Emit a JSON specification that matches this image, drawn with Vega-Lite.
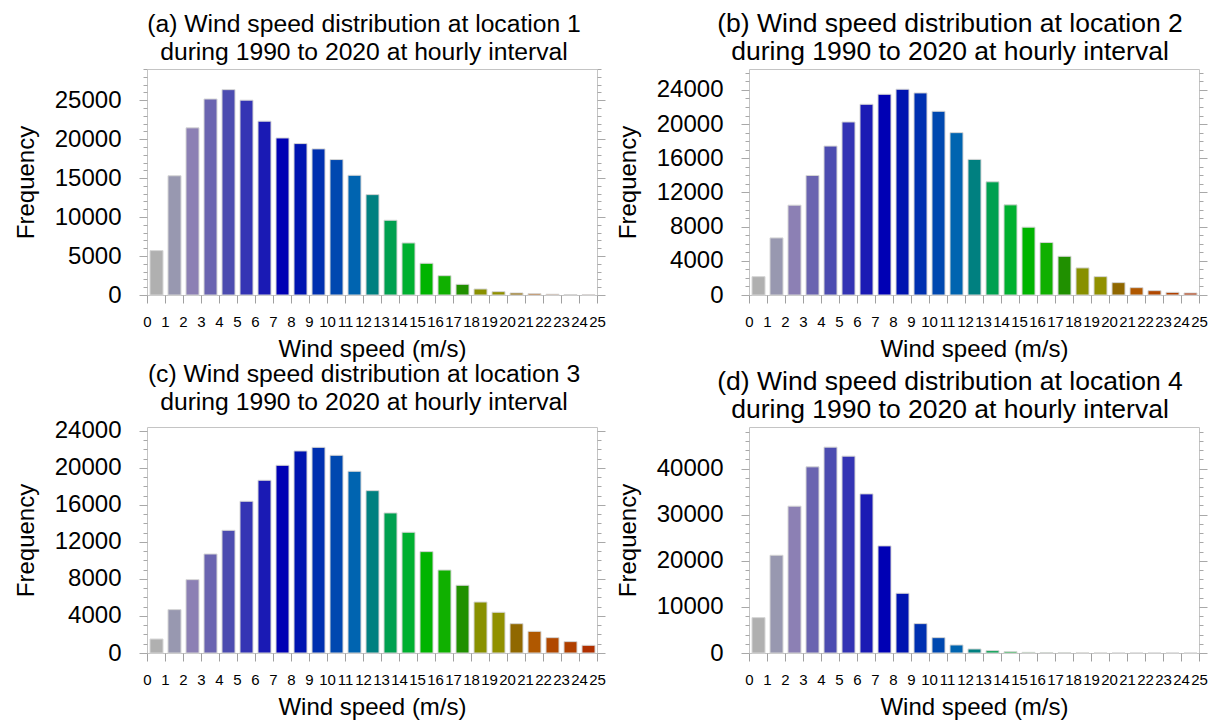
{
  "$schema": "https://vega.github.io/schema/vega-lite/v6.json",
  "padding": {"left": 13, "top": 10, "right": 0, "bottom": 0},
  "background": "white",
  "config": {
    "font": "Liberation Sans",
    "view": {"stroke": "#c4c4c4", "strokeWidth": 1},
    "bar": {"binSpacing": 5},
    "axis": {"domain": false, "grid": false, "tickColor": "#a8a8a8", "tickWidth": 1, "tickOpacity": 1, "labelColor": "#000000", "titleColor": "#000000", "labelFont": "Liberation Sans", "titleFont": "Liberation Sans", "titleFontWeight": "normal"},
    "title": {"font": "Liberation Sans", "fontSize": 24.7, "fontWeight": "normal", "color": "#000000", "lineHeight": 28, "anchor": "middle", "offset": 4}
  },
  "spacing": {"row": -1, "column": 9},
  "datasets": {
    "a": [
      {"bin": 0, "lo": 0, "hi": 1, "count": 5700}, {"bin": 1, "lo": 1, "hi": 2, "count": 15300}, {"bin": 2, "lo": 2, "hi": 3, "count": 21450}, {"bin": 3, "lo": 3, "hi": 4, "count": 25150}, {"bin": 4, "lo": 4, "hi": 5, "count": 26350},
      {"bin": 5, "lo": 5, "hi": 6, "count": 25000}, {"bin": 6, "lo": 6, "hi": 7, "count": 22300}, {"bin": 7, "lo": 7, "hi": 8, "count": 20150}, {"bin": 8, "lo": 8, "hi": 9, "count": 19430}, {"bin": 9, "lo": 9, "hi": 10, "count": 18750},
      {"bin": 10, "lo": 10, "hi": 11, "count": 17380}, {"bin": 11, "lo": 11, "hi": 12, "count": 15360}, {"bin": 12, "lo": 12, "hi": 13, "count": 12880}, {"bin": 13, "lo": 13, "hi": 14, "count": 9590}, {"bin": 14, "lo": 14, "hi": 15, "count": 6680},
      {"bin": 15, "lo": 15, "hi": 16, "count": 4070}, {"bin": 16, "lo": 16, "hi": 17, "count": 2480}, {"bin": 17, "lo": 17, "hi": 18, "count": 1370}, {"bin": 18, "lo": 18, "hi": 19, "count": 770}, {"bin": 19, "lo": 19, "hi": 20, "count": 430},
      {"bin": 20, "lo": 20, "hi": 21, "count": 260}, {"bin": 21, "lo": 21, "hi": 22, "count": 170}, {"bin": 22, "lo": 22, "hi": 23, "count": 100}, {"bin": 23, "lo": 23, "hi": 24, "count": 55}, {"bin": 24, "lo": 24, "hi": 25, "count": 30}
    ],
    "b": [
      {"bin": 0, "lo": 0, "hi": 1, "count": 2150}, {"bin": 1, "lo": 1, "hi": 2, "count": 6680}, {"bin": 2, "lo": 2, "hi": 3, "count": 10510}, {"bin": 3, "lo": 3, "hi": 4, "count": 13990}, {"bin": 4, "lo": 4, "hi": 5, "count": 17430},
      {"bin": 5, "lo": 5, "hi": 6, "count": 20250}, {"bin": 6, "lo": 6, "hi": 7, "count": 22320}, {"bin": 7, "lo": 7, "hi": 8, "count": 23490}, {"bin": 8, "lo": 8, "hi": 9, "count": 24080}, {"bin": 9, "lo": 9, "hi": 10, "count": 23650},
      {"bin": 10, "lo": 10, "hi": 11, "count": 21500}, {"bin": 11, "lo": 11, "hi": 12, "count": 19000}, {"bin": 12, "lo": 12, "hi": 13, "count": 15870}, {"bin": 13, "lo": 13, "hi": 14, "count": 13250}, {"bin": 14, "lo": 14, "hi": 15, "count": 10550},
      {"bin": 15, "lo": 15, "hi": 16, "count": 7940}, {"bin": 16, "lo": 16, "hi": 17, "count": 6140}, {"bin": 17, "lo": 17, "hi": 18, "count": 4530}, {"bin": 18, "lo": 18, "hi": 19, "count": 3170}, {"bin": 19, "lo": 19, "hi": 20, "count": 2150},
      {"bin": 20, "lo": 20, "hi": 21, "count": 1450}, {"bin": 21, "lo": 21, "hi": 22, "count": 860}, {"bin": 22, "lo": 22, "hi": 23, "count": 510}, {"bin": 23, "lo": 23, "hi": 24, "count": 310}, {"bin": 24, "lo": 24, "hi": 25, "count": 235}
    ],
    "c": [
      {"bin": 0, "lo": 0, "hi": 1, "count": 1510}, {"bin": 1, "lo": 1, "hi": 2, "count": 4690}, {"bin": 2, "lo": 2, "hi": 3, "count": 7930}, {"bin": 3, "lo": 3, "hi": 4, "count": 10700}, {"bin": 4, "lo": 4, "hi": 5, "count": 13260},
      {"bin": 5, "lo": 5, "hi": 6, "count": 16400}, {"bin": 6, "lo": 6, "hi": 7, "count": 18670}, {"bin": 7, "lo": 7, "hi": 8, "count": 20290}, {"bin": 8, "lo": 8, "hi": 9, "count": 21840}, {"bin": 9, "lo": 9, "hi": 10, "count": 22230},
      {"bin": 10, "lo": 10, "hi": 11, "count": 21370}, {"bin": 11, "lo": 11, "hi": 12, "count": 19640}, {"bin": 12, "lo": 12, "hi": 13, "count": 17550}, {"bin": 13, "lo": 13, "hi": 14, "count": 15140}, {"bin": 14, "lo": 14, "hi": 15, "count": 13050},
      {"bin": 15, "lo": 15, "hi": 16, "count": 10960}, {"bin": 16, "lo": 16, "hi": 17, "count": 8970}, {"bin": 17, "lo": 17, "hi": 18, "count": 7320}, {"bin": 18, "lo": 18, "hi": 19, "count": 5510}, {"bin": 19, "lo": 19, "hi": 20, "count": 4400},
      {"bin": 20, "lo": 20, "hi": 21, "count": 3170}, {"bin": 21, "lo": 21, "hi": 22, "count": 2340}, {"bin": 22, "lo": 22, "hi": 23, "count": 1660}, {"bin": 23, "lo": 23, "hi": 24, "count": 1230}, {"bin": 24, "lo": 24, "hi": 25, "count": 830}
    ],
    "d": [
      {"bin": 0, "lo": 0, "hi": 1, "count": 7670}, {"bin": 1, "lo": 1, "hi": 2, "count": 21190}, {"bin": 2, "lo": 2, "hi": 3, "count": 31830}, {"bin": 3, "lo": 3, "hi": 4, "count": 40360}, {"bin": 4, "lo": 4, "hi": 5, "count": 44630},
      {"bin": 5, "lo": 5, "hi": 6, "count": 42680}, {"bin": 6, "lo": 6, "hi": 7, "count": 34500}, {"bin": 7, "lo": 7, "hi": 8, "count": 23220}, {"bin": 8, "lo": 8, "hi": 9, "count": 12950}, {"bin": 9, "lo": 9, "hi": 10, "count": 6370},
      {"bin": 10, "lo": 10, "hi": 11, "count": 3330}, {"bin": 11, "lo": 11, "hi": 12, "count": 1740}, {"bin": 12, "lo": 12, "hi": 13, "count": 870}, {"bin": 13, "lo": 13, "hi": 14, "count": 510}, {"bin": 14, "lo": 14, "hi": 15, "count": 290},
      {"bin": 15, "lo": 15, "hi": 16, "count": 145}, {"bin": 16, "lo": 16, "hi": 17, "count": 70}, {"bin": 17, "lo": 17, "hi": 18, "count": 35}, {"bin": 18, "lo": 18, "hi": 19, "count": 20}, {"bin": 19, "lo": 19, "hi": 20, "count": 10},
      {"bin": 20, "lo": 20, "hi": 21, "count": 5}, {"bin": 21, "lo": 21, "hi": 22, "count": 3}, {"bin": 22, "lo": 22, "hi": 23, "count": 2}, {"bin": 23, "lo": 23, "hi": 24, "count": 1}, {"bin": 24, "lo": 24, "hi": 25, "count": 1}
    ]
  },
  "columns": 2,
  "concat": [
    {
      "width": 450, "height": 226,
      "data": {"name": "a"},
      "title": {"text": ["(a) Wind speed distribution at location 1", "during 1990 to 2020 at hourly interval"], "dx": -8},
      "resolve": {"axis": {"y": "independent"}},
      "layer": [
        {
          "mark": {"type": "bar", "stroke": "#d6d6d6", "strokeWidth": 1},
          "encoding": {
            "x": {"field": "lo", "type": "quantitative", "bin": {"binned": true, "step": 1}, "scale": {"domain": [0, 25], "nice": false, "zero": false}, "axis": {"orient": "bottom", "values": [0,1,2,3,4,5,6,7,8,9,10,11,12,13,14,15,16,17,18,19,20,21,22,23,24,25], "labelOverlap": false, "labelFlush": false, "labelFontSize": 15, "labelPadding": 11, "ticks": true, "tickSize": 8, "tickColor": "#a0a0a0", "title": "Wind speed (m/s)", "titleFontSize": 24, "titlePadding": 8}},
            "x2": {"field": "hi"},
            "y": {"field": "count", "type": "quantitative", "scale": {"domain": [0, 29000], "nice": false}, "axis": {"orient": "left", "title": "Frequency", "titleFontSize": 24, "titlePadding": 16, "labelFontSize": 24, "labelPadding": 18, "values": [0,1000,2000,3000,4000,5000,6000,7000,8000,9000,10000,11000,12000,13000,14000,15000,16000,17000,18000,19000,20000,21000,22000,23000,24000,25000,26000,27000,28000,29000], "labelExpr": "datum.value % 5000 === 0 ? datum.label : ''", "format": "d", "tickSize": {"condition": {"test": "datum.value % 5000 === 0", "value": 8}, "value": 4}}},
            "color": {"field": "bin", "type": "ordinal", "legend": null, "scale": {"domain": [0,1,2,3,4,5,6,7,8,9,10,11,12,13,14,15,16,17,18,19,20,21,22,23,24], "range": ["#b0b0b0","#9898b0","#8c80b4","#6a64b0","#4c4cb0","#3434b4","#1a1ab4","#0000b4","#0014b0","#0030b0","#0048b0","#0064b0","#008080","#00a050","#00b030","#00b400","#10b000","#209000","#889000","#909000","#906800","#b05800","#b04800","#b04000","#b03000"]}}
          }
        },
        {
          "mark": {"type": "rule", "opacity": 0},
          "encoding": {
            "y": {"field": "count", "type": "quantitative", "axis": {"orient": "right", "title": null, "labels": false, "values": [0,1000,2000,3000,4000,5000,6000,7000,8000,9000,10000,11000,12000,13000,14000,15000,16000,17000,18000,19000,20000,21000,22000,23000,24000,25000,26000,27000,28000,29000], "tickSize": {"condition": {"test": "datum.value % 5000 === 0", "value": 8}, "value": 4}}}
          }
        }
      ]
    },
    {
      "width": 450, "height": 226,
      "data": {"name": "b"},
      "title": {"text": ["(b) Wind speed distribution at location 2", "during 1990 to 2020 at hourly interval"], "dx": -24, "fontSize": 26.5},
      "resolve": {"axis": {"y": "independent"}},
      "layer": [
        {
          "mark": {"type": "bar", "stroke": "#d6d6d6", "strokeWidth": 1},
          "encoding": {
            "x": {"field": "lo", "type": "quantitative", "bin": {"binned": true, "step": 1}, "scale": {"domain": [0, 25], "nice": false, "zero": false}, "axis": {"orient": "bottom", "values": [0,1,2,3,4,5,6,7,8,9,10,11,12,13,14,15,16,17,18,19,20,21,22,23,24,25], "labelOverlap": false, "labelFlush": false, "labelFontSize": 15, "labelPadding": 11, "ticks": true, "tickSize": 8, "tickColor": "#a0a0a0", "title": "Wind speed (m/s)", "titleFontSize": 24, "titlePadding": 8}},
            "x2": {"field": "hi"},
            "y": {"field": "count", "type": "quantitative", "scale": {"domain": [0, 26450], "nice": false}, "axis": {"orient": "left", "title": "Frequency", "titleFontSize": 24, "titlePadding": 16, "labelFontSize": 24, "labelPadding": 18, "values": [0,1000,2000,3000,4000,5000,6000,7000,8000,9000,10000,11000,12000,13000,14000,15000,16000,17000,18000,19000,20000,21000,22000,23000,24000,25000,26000], "labelExpr": "datum.value % 4000 === 0 ? datum.label : ''", "format": "d", "tickSize": {"condition": {"test": "datum.value % 4000 === 0", "value": 8}, "value": 4}}},
            "color": {"field": "bin", "type": "ordinal", "legend": null, "scale": {"domain": [0,1,2,3,4,5,6,7,8,9,10,11,12,13,14,15,16,17,18,19,20,21,22,23,24], "range": ["#b0b0b0","#9898b0","#8c80b4","#6a64b0","#4c4cb0","#3434b4","#1a1ab4","#0000b4","#0014b0","#0030b0","#0048b0","#0064b0","#008080","#00a050","#00b030","#00b400","#10b000","#209000","#889000","#909000","#906800","#b05800","#b04800","#b04000","#b03000"]}}
          }
        },
        {
          "mark": {"type": "rule", "opacity": 0},
          "encoding": {
            "y": {"field": "count", "type": "quantitative", "axis": {"orient": "right", "title": null, "labels": false, "values": [0,1000,2000,3000,4000,5000,6000,7000,8000,9000,10000,11000,12000,13000,14000,15000,16000,17000,18000,19000,20000,21000,22000,23000,24000,25000,26000], "tickSize": {"condition": {"test": "datum.value % 4000 === 0", "value": 8}, "value": 4}}}
          }
        }
      ]
    },
    {
      "width": 450, "height": 226,
      "data": {"name": "c"},
      "title": {"text": ["(c) Wind speed distribution at location 3", "during 1990 to 2020 at hourly interval"], "dx": -8},
      "resolve": {"axis": {"y": "independent"}},
      "layer": [
        {
          "mark": {"type": "bar", "stroke": "#d6d6d6", "strokeWidth": 1},
          "encoding": {
            "x": {"field": "lo", "type": "quantitative", "bin": {"binned": true, "step": 1}, "scale": {"domain": [0, 25], "nice": false, "zero": false}, "axis": {"orient": "bottom", "values": [0,1,2,3,4,5,6,7,8,9,10,11,12,13,14,15,16,17,18,19,20,21,22,23,24,25], "labelOverlap": false, "labelFlush": false, "labelFontSize": 15, "labelPadding": 11, "ticks": true, "tickSize": 8, "tickColor": "#a0a0a0", "title": "Wind speed (m/s)", "titleFontSize": 24, "titlePadding": 8}},
            "x2": {"field": "hi"},
            "y": {"field": "count", "type": "quantitative", "scale": {"domain": [0, 24430], "nice": false}, "axis": {"orient": "left", "title": "Frequency", "titleFontSize": 24, "titlePadding": 16, "labelFontSize": 24, "labelPadding": 18, "values": [0,1000,2000,3000,4000,5000,6000,7000,8000,9000,10000,11000,12000,13000,14000,15000,16000,17000,18000,19000,20000,21000,22000,23000,24000], "labelExpr": "datum.value % 4000 === 0 ? datum.label : ''", "format": "d", "tickSize": {"condition": {"test": "datum.value % 4000 === 0", "value": 8}, "value": 4}}},
            "color": {"field": "bin", "type": "ordinal", "legend": null, "scale": {"domain": [0,1,2,3,4,5,6,7,8,9,10,11,12,13,14,15,16,17,18,19,20,21,22,23,24], "range": ["#b0b0b0","#9898b0","#8c80b4","#6a64b0","#4c4cb0","#3434b4","#1a1ab4","#0000b4","#0014b0","#0030b0","#0048b0","#0064b0","#008080","#00a050","#00b030","#00b400","#10b000","#209000","#889000","#909000","#906800","#b05800","#b04800","#b04000","#b03000"]}}
          }
        },
        {
          "mark": {"type": "rule", "opacity": 0},
          "encoding": {
            "y": {"field": "count", "type": "quantitative", "axis": {"orient": "right", "title": null, "labels": false, "values": [0,1000,2000,3000,4000,5000,6000,7000,8000,9000,10000,11000,12000,13000,14000,15000,16000,17000,18000,19000,20000,21000,22000,23000,24000], "tickSize": {"condition": {"test": "datum.value % 4000 === 0", "value": 8}, "value": 4}}}
          }
        }
      ]
    },
    {
      "width": 450, "height": 226,
      "data": {"name": "d"},
      "title": {"text": ["(d) Wind speed distribution at location 4", "during 1990 to 2020 at hourly interval"], "dx": -24, "fontSize": 26.5},
      "resolve": {"axis": {"y": "independent"}},
      "layer": [
        {
          "mark": {"type": "bar", "stroke": "#d6d6d6", "strokeWidth": 1},
          "encoding": {
            "x": {"field": "lo", "type": "quantitative", "bin": {"binned": true, "step": 1}, "scale": {"domain": [0, 25], "nice": false, "zero": false}, "axis": {"orient": "bottom", "values": [0,1,2,3,4,5,6,7,8,9,10,11,12,13,14,15,16,17,18,19,20,21,22,23,24,25], "labelOverlap": false, "labelFlush": false, "labelFontSize": 15, "labelPadding": 11, "ticks": true, "tickSize": 8, "tickColor": "#a0a0a0", "title": "Wind speed (m/s)", "titleFontSize": 24, "titlePadding": 8}},
            "x2": {"field": "hi"},
            "y": {"field": "count", "type": "quantitative", "scale": {"domain": [0, 49000], "nice": false}, "axis": {"orient": "left", "title": "Frequency", "titleFontSize": 24, "titlePadding": 16, "labelFontSize": 24, "labelPadding": 18, "values": [0,2000,4000,6000,8000,10000,12000,14000,16000,18000,20000,22000,24000,26000,28000,30000,32000,34000,36000,38000,40000,42000,44000,46000,48000], "labelExpr": "datum.value % 10000 === 0 ? datum.label : ''", "format": "d", "tickSize": {"condition": {"test": "datum.value % 10000 === 0", "value": 8}, "value": 4}}},
            "color": {"field": "bin", "type": "ordinal", "legend": null, "scale": {"domain": [0,1,2,3,4,5,6,7,8,9,10,11,12,13,14,15,16,17,18,19,20,21,22,23,24], "range": ["#b0b0b0","#9898b0","#8c80b4","#6a64b0","#4c4cb0","#3434b4","#1a1ab4","#0000b4","#0014b0","#0030b0","#0048b0","#0064b0","#008080","#00a050","#00b030","#00b400","#10b000","#209000","#889000","#909000","#906800","#b05800","#b04800","#b04000","#b03000"]}}
          }
        },
        {
          "mark": {"type": "rule", "opacity": 0},
          "encoding": {
            "y": {"field": "count", "type": "quantitative", "axis": {"orient": "right", "title": null, "labels": false, "values": [0,2000,4000,6000,8000,10000,12000,14000,16000,18000,20000,22000,24000,26000,28000,30000,32000,34000,36000,38000,40000,42000,44000,46000,48000], "tickSize": {"condition": {"test": "datum.value % 10000 === 0", "value": 8}, "value": 4}}}
          }
        }
      ]
    }
  ]
}
